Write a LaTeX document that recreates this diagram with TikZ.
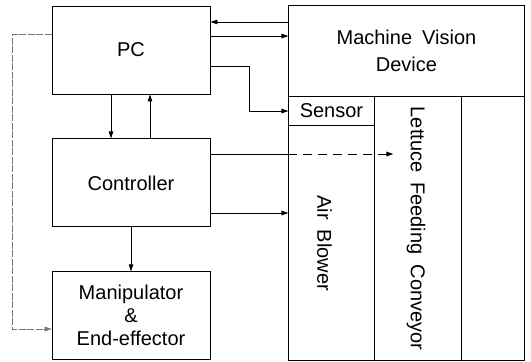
\documentclass[tikz,border=0pt]{standalone}
\usepackage{fontspec}
\setmainfont{Liberation Sans}
\usetikzlibrary{arrows.meta, positioning}
\newcommand{\labelfont}{\fontsize{20}{23}\selectfont\spaceskip=0.5em\relax}

\begin{document}
\begin{tikzpicture}[
    x=1pt, y=-1pt,
    node distance=44pt and 78pt,
    every node/.style={font=\labelfont},
    block/.style={rectangle, draw, line width=0.9pt, minimum width=158pt,
                  minimum height=88pt, align=center, inner sep=0pt},
    part/.style={rectangle, draw, line width=0.9pt, outer sep=0pt,
                 inner sep=0pt, align=center},
    arrow/.style={-{Triangle[length=7pt, width=4.5pt]}, line width=0.9pt},
    link/.style={arrow, line width=0.6pt, color=black!55,
                 dash pattern=on 7pt off 1.5pt}
]
\useasboundingbox (0,0) rectangle (531,362);

% control side
\node[block] (pc) at (131,50) {PC};
\node[block, below=of pc] (ctrl) {Controller};
\node[block, below=of ctrl] (manip) {Manipulator\\\&\\End-effector};

% machine side
\node[part, minimum width=236pt, minimum height=91pt,
      right=78pt of pc.north east, anchor=north west] (mvd)
     {Machine Vision\\[4pt]Device};
\node[part, minimum width=86pt, minimum height=29pt,
      below=0pt of mvd.south west, anchor=north west] (sensor) {Sensor};
\node[part, minimum width=86pt, minimum height=235pt,
      below=0pt of sensor.south west, anchor=north west] (blower) {};
\node[part, minimum width=87pt, minimum height=264pt,
      right=0pt of sensor.north east, anchor=north west] (conveyor) {};
\node[part, minimum width=63pt, minimum height=264pt,
      right=0pt of conveyor.north east, anchor=north west] (rest) {};

\node[rotate=-90, yshift=-7pt] (blowertxt) at (blower) {Air Blower};
\node[rotate=-90, yshift=-2pt] (conveyortxt) at (conveyor)
     {Lettuce Feeding Conveyor};

\draw[arrow] (mvd.west |- 0,22) -- (pc.east |- 0,22);
\draw[arrow] (pc.east |- 0,36) -- (mvd.west |- 0,36);
\draw[arrow] (pc.east |- 0,66) -- ++(39,0) |- (sensor.west);
\draw[arrow] ([xshift=-20pt]pc.south) -- ([xshift=-20pt]ctrl.north);
\draw[arrow] ([xshift=19pt]ctrl.north) -- ([xshift=19pt]pc.south);
\draw[line width=0.9pt] (ctrl.east |- 0,154) -- (blower.west |- 0,154);
\draw[arrow, dash pattern=on 9pt off 6pt]
     (blower.west |- 0,154) -- ++(105,0);
\draw[arrow] (ctrl.east |- 0,213) -- (blower.west |- 0,213);
\draw[arrow] (ctrl.south) -- (manip.north);
\draw[link] (pc.west |- 0,34) -- ++(-39,0) |- (manip.west |- 0,329);

\end{tikzpicture}
\end{document}
